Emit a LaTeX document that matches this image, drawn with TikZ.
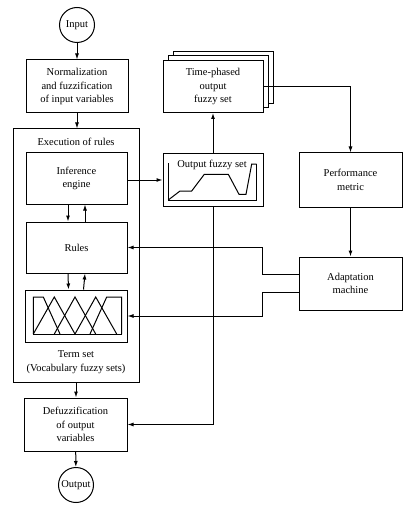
\documentclass[tikz,border=0pt]{standalone}
\usepackage{fontspec}
\setmainfont{Liberation Serif}
\usetikzlibrary{arrows.meta,calc}
\begin{document}
\begin{tikzpicture}[x=1pt,y=-1pt,
  line width=1pt,
  txt/.style={font=\fontsize{10.5}{13.5}\selectfont},
  box/.style={draw, rectangle, align=center, inner sep=0pt, txt},
  circ/.style={draw, circle, minimum size=35pt, inner sep=0pt, txt},
  lbl/.style={align=center, inner sep=0pt, txt},
  arr/.style={-{Latex[length=6pt,width=4pt]}}]
\useasboundingbox[fill=white] (0,0) rectangle (409,505);

% left column
\node[circ] (input) at (77,25) {Input};
\node[box, minimum width=102pt, minimum height=53pt] (norm) at (77,86.5) {Normalization\\and fuzzification\\of input variables};
\node[box, minimum width=126pt, minimum height=253pt] (exec) at (76,255.5) {};
\node[lbl] (exectxt) at (76,142) {Execution of rules};
\node[box, minimum width=101pt, minimum height=51pt] (inf) at (76.5,178.5) {Inference\\engine};
\node[box, minimum width=101pt, minimum height=51pt] (rules) at (76.5,247.5) {Rules};
\node[box, minimum width=102pt, minimum height=52pt] (term) at (76,316) {};
\node[lbl] (termtxt) at (76,362) {Term set\\(Vocabulary fuzzy sets)};
\node[box, minimum width=103pt, minimum height=53pt] (defuzz) at (75.5,424.5) {Defuzzification\\of output\\variables};
\node[circ] (output) at (76,485) {Output};

% term set membership functions
\draw (33.3,334) -- (33.3,297) -- (43.3,297) -- (60,334);
\draw (121.7,334) -- (121.7,297) -- (106.7,297) -- (90,334);
\draw (33.3,334) -- (54.3,297) -- (75,334);
\draw (54.3,334) -- (75,297) -- (95.7,334);
\draw (75,334) -- (95.7,297) -- (116.7,334);
\draw (33.3,334) -- (121.7,334);

% middle column
\node[box, minimum width=100pt, minimum height=52pt] (tp3) at (223.5,77.5) {};
\node[box, fill=white, minimum width=100pt, minimum height=52pt] (tp2) at (218.3,82) {};
\node[box, fill=white, minimum width=100pt, minimum height=52pt] (tp) at (213,86.5) {Time-phased\\output\\fuzzy set};
\node[box, minimum width=100pt, minimum height=52pt] (ofs) at (213,180) {};
\node[lbl] (ofstxt) at (212,165) {Output fuzzy set};
\draw (168.3,163) -- (168.3,200) -- (256.7,200) -- (256.7,164);
\draw (168.3,200) -- (180,191) -- (191.7,191) -- (204.3,174.3) -- (228.3,174.3)
  -- (239,194.3) -- (246,194.3) -- (251.7,164) -- (256.7,164);

% right column
\node[box, minimum width=103pt, minimum height=54pt] (perf) at (350.5,180) {Performance\\metric};
\node[box, minimum width=103pt, minimum height=53pt] (adapt) at (350.5,283.5) {Adaptation\\machine};

\coordinate (j1) at (262,274);
\coordinate (j2) at (262,292);

% connectors
\draw[arr] (input) -- (norm);
\draw[arr] (norm) -- (norm.south |- exec.north);
\draw[arr] (inf.east |- ofs.west) -- (ofs.west);
\draw[arr] ([xshift=-8.5pt]inf.south) -- ([xshift=-8.5pt]rules.north);
\draw[arr] ([xshift=8.5pt]rules.north) -- ([xshift=8.5pt]inf.south);
\draw[arr] ([xshift=-8.5pt]rules.south) -- ([xshift=-7.5pt]term.north);
\draw[arr] ([xshift=7.5pt]term.north) -- ([xshift=8.5pt]rules.south);
\draw[arr] (exec.south) -- (exec.south |- defuzz.north);
\draw[arr] (defuzz) -- (output);
\draw[arr] (ofs) -- (tp);
\draw[arr] (tp.east) -| (perf.north);
\draw[arr] (perf) -- (adapt);
\draw[arr] (adapt.west |- j1) -- (j1) |- (rules.east);
\draw[arr] (adapt.west |- j2) -- (j2) |- (term.east);
\draw[arr] (ofs.south) |- (defuzz.east);
\end{tikzpicture}
\end{document}
